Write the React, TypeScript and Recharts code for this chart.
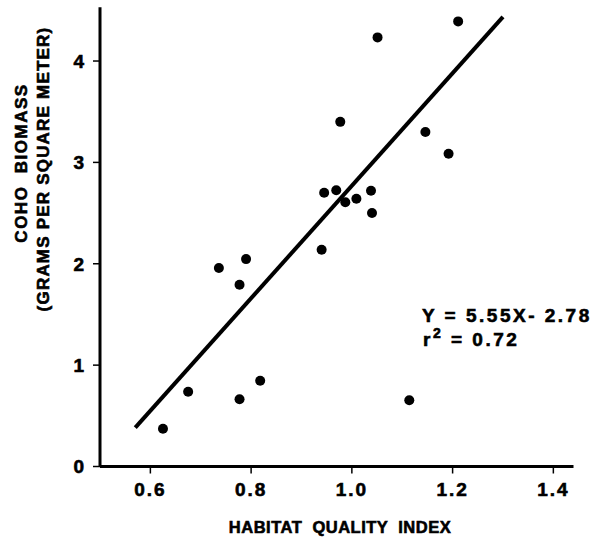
import React from "react";
import { ScatterChart, Scatter, XAxis, YAxis, ReferenceLine, Label } from "recharts";

// Habitat quality index (x) and coho biomass g/m^2 (y)
const habitatIndex = [0.625, 0.675, 0.736, 0.790, 0.777, 0.777, 0.818, 0.940, 0.945, 0.969, 0.977, 0.987, 1.009, 1.038, 1.040, 1.051, 1.114, 1.146, 1.192, 1.211];
const cohoBiomass = [0.373, 0.738, 1.958, 2.046, 1.793, 0.663, 0.846, 2.138, 2.700, 2.725, 3.400, 2.606, 2.641, 2.720, 2.500, 4.233, 0.653, 3.299, 3.085, 4.391];

const xTicks = [0.6, 0.8, 1.0, 1.2, 1.4];
const yTicks = [0, 1, 2, 3, 4];
const xDomain = [0.5, 1.44];
const yDomain = [0, 4.53];

const slope = 5.55;
const intercept = -2.78;
const fitRange = [0.57, 1.3];

const data = habitatIndex.map((x, i) => ({ x, y: cohoBiomass[i] }));
const fitSegment = fitRange.map((x) => ({ x, y: slope * x + intercept }));

const FONT = "'Liberation Sans', Arial, sans-serif";
const HEAVY = { stroke: "#000", strokeWidth: 0.6 };

const Dot = (p: any) => <circle cx={p.cx} cy={p.cy} r={5} fill="#000" />;

const YTitle = (props: any) => {
  return (
    <g fontFamily={FONT} fontWeight="bold" fontSize={17} fill="#000" {...HEAVY}>
      <text x={21} y={163} textAnchor="middle" dominantBaseline="central" letterSpacing={1.5} xmlSpace="preserve" transform="rotate(-90 21 163)">
        COHO  BIOMASS
      </text>
      <text x={43} y={169} textAnchor="middle" dominantBaseline="central" letterSpacing={1.2} transform="rotate(-90 43 169)">
        (GRAMS PER SQUARE METER)
      </text>
    </g>
  );
};

const XTitle = (props: any) => {
  return (
    <text x={340} y={527} textAnchor="middle" dominantBaseline="central" fontFamily={FONT} fontWeight="bold" fontSize={16.5} letterSpacing={0.5} xmlSpace="preserve" fill="#000" {...HEAVY}>
      HABITAT  QUALITY  INDEX
    </text>
  );
};

export default function App() {
  return (
    <div style={{ position: "absolute", left: 0, top: 0, width: 607, height: 538, background: "#fff" }}>
      <ScatterChart width={607} height={538} margin={{ top: 7.3, right: 33.5, left: 0, bottom: 0 }}>
        <XAxis
          type="number"
          dataKey="x"
          domain={xDomain}
          ticks={xTicks}
          allowDataOverflow
          height={71.5}
          axisLine={{ stroke: "#000", strokeWidth: 3 }}
          tickLine={{ stroke: "#000", strokeWidth: 1.5 }}
          tickSize={7}
          tickMargin={9}
          tickFormatter={(v: number) => v.toFixed(1)}
          tick={{ fill: "#000", fontSize: 19, fontWeight: "bold", fontFamily: FONT, letterSpacing: 2, ...HEAVY }}
        >
          <Label content={<XTitle />} />
        </XAxis>
        <YAxis
          type="number"
          dataKey="y"
          domain={yDomain}
          ticks={yTicks}
          allowDataOverflow
          width={100}
          axisLine={{ stroke: "#000", strokeWidth: 3 }}
          tickLine={{ stroke: "#000", strokeWidth: 1.5 }}
          tickSize={7}
          tickMargin={9}
          tick={{ fill: "#000", fontSize: 19, fontWeight: "bold", fontFamily: FONT, ...HEAVY }}
        >
          <Label content={<YTitle />} />
        </YAxis>
        <ReferenceLine
          segment={fitSegment}
          stroke="#000"
          strokeWidth={4}
          ifOverflow="visible"
        />
        <Scatter data={data} shape={<Dot />} isAnimationActive={false} />
        <g fontFamily={FONT} fontWeight="bold" fontSize={19} fill="#000" {...HEAVY}>
          <text x={422} y={315} dominantBaseline="central" letterSpacing={2.5} xmlSpace="preserve">
            Y = 5.55X- 2.78
          </text>
          <text x={423} y={339} dominantBaseline="central" letterSpacing={2.5}>
            r<tspan fontSize={14} dy={-6}>2</tspan>
            <tspan dy={6}> = 0.72</tspan>
          </text>
        </g>
      </ScatterChart>
    </div>
  );
}
